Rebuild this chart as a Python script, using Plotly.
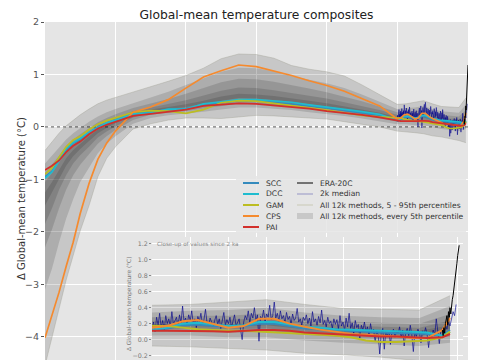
import plotly.graph_objects as go

# ---------------- data ----------------
years = [-10000, -9800, -9600, -9400, -9200, -9000, -8750, -8500, -8250, -8000,
         -7500, -7000, -6500, -6000, -5500, -5000, -4500, -4000, -3500, -3000,
         -2500, -2000, -1500, -1000, -500, 0, 100, 200, 300, 400, 500, 600, 700,
         800, 900, 1000, 1100, 1200, 1300, 1400, 1500, 1600, 1700, 1800, 1900, 1950]

scc = [-0.95, -0.85, -0.62, -0.45, -0.31, -0.24, -0.11, 0.0, 0.07, 0.12, 0.24, 0.28, 0.33,
       0.35, 0.42, 0.46, 0.5, 0.5, 0.47, 0.44, 0.4, 0.36, 0.31, 0.27, 0.22,
       0.12, 0.14, 0.18, 0.19, 0.17, 0.16, 0.17, 0.2, 0.2, 0.17, 0.14, 0.13, 0.12, 0.11,
       0.1, 0.09, 0.08, 0.08, 0.07, 0.05, 0.12]
dcc = [-0.98, -0.86, -0.64, -0.42, -0.3, -0.22, -0.1, -0.01, 0.08, 0.13, 0.25, 0.27, 0.34,
       0.34, 0.44, 0.48, 0.52, 0.52, 0.5, 0.47, 0.42, 0.38, 0.33, 0.29, 0.24,
       0.125, 0.15, 0.2, 0.21, 0.19, 0.17, 0.18, 0.22, 0.22, 0.19, 0.16, 0.15, 0.13, 0.125,
       0.12, 0.11, 0.105, 0.1, 0.09, 0.05, 0.1]
gam = [-0.9, -0.78, -0.58, -0.38, -0.25, -0.18, -0.05, 0.05, 0.12, 0.17, 0.28, 0.31, 0.3,
       0.26, 0.33, 0.46, 0.5, 0.49, 0.45, 0.41, 0.37, 0.32, 0.27, 0.22, 0.19,
       0.18, 0.17, 0.15, 0.13, 0.12, 0.11, 0.11, 0.1, 0.09, 0.08, 0.07, 0.06, 0.05, 0.03,
       -0.01, -0.03, -0.03, -0.02, -0.01, 0.03, 0.1]
cps = [-4.02, -3.6, -3.15, -2.66, -2.2, -1.65, -1.08, -0.62, -0.31, -0.08, 0.28, 0.38, 0.52,
       0.74, 0.95, 1.07, 1.18, 1.15, 1.07, 0.98, 0.88, 0.79, 0.68, 0.54, 0.4,
       0.15, 0.17, 0.23, 0.245, 0.2, 0.15, 0.17, 0.26, 0.26, 0.2, 0.16, 0.125, 0.1, 0.07,
       0.06, 0.05, 0.04, 0.02, 0.02, 0.12, 0.27]
pai = [-0.82, -0.74, -0.64, -0.48, -0.36, -0.28, -0.14, -0.03, 0.04, 0.1, 0.21, 0.25, 0.29,
       0.33, 0.4, 0.43, 0.45, 0.44, 0.41, 0.38, 0.35, 0.3, 0.27, 0.23, 0.18,
       0.11, 0.11, 0.11, 0.11, 0.105, 0.1, 0.11, 0.12, 0.12, 0.11, 0.09, 0.08, 0.07, 0.06,
       0.05, 0.04, 0.04, 0.03, 0.02, 0.03, 0.07]

band_years = [-10000, -9800, -9600, -9400, -9200, -9000, -8750, -8500, -8250, -8000,
              -7500, -7000, -6500, -6000, -5500, -5000, -4500, -4000, -3500, -3000,
              -2500, -2000, -1500, -1000, -500, 0, 250, 500, 750, 1000, 1250, 1500, 1750, 1950]
p95 = [-0.45, -0.28, -0.12, 0.02, 0.13, 0.23, 0.34, 0.44, 0.51, 0.56, 0.66, 0.76, 0.87, 0.98,
       1.12, 1.3, 1.39, 1.38, 1.31, 1.17, 1.1, 1.05, 0.97, 0.8, 0.62, 0.43, 0.44, 0.47, 0.5,
       0.44, 0.39, 0.38, 0.37, 0.55]
p85 = [-0.7, -0.55, -0.4, -0.24, -0.12, -0.02, 0.1, 0.2, 0.28, 0.34, 0.45, 0.55, 0.67, 0.8,
       0.92, 1.05, 1.13, 1.12, 1.06, 0.97, 0.9, 0.83, 0.74, 0.62, 0.48, 0.34, 0.36, 0.37, 0.4,
       0.34, 0.3, 0.28, 0.27, 0.42]
p75 = [-0.88, -0.72, -0.55, -0.37, -0.24, -0.14, -0.02, 0.09, 0.17, 0.24, 0.36, 0.44, 0.53,
       0.63, 0.74, 0.85, 0.92, 0.91, 0.86, 0.8, 0.73, 0.66, 0.58, 0.49, 0.39, 0.28, 0.3, 0.3,
       0.33, 0.27, 0.23, 0.21, 0.2, 0.32]
p65 = [-1.05, -0.88, -0.68, -0.48, -0.34, -0.23, -0.1, 0.02, 0.1, 0.17, 0.3, 0.37, 0.44, 0.51,
       0.6, 0.69, 0.75, 0.74, 0.7, 0.65, 0.6, 0.54, 0.47, 0.4, 0.32, 0.23, 0.25, 0.25, 0.27,
       0.22, 0.18, 0.16, 0.15, 0.24]
p55 = [-1.25, -1.05, -0.82, -0.6, -0.44, -0.32, -0.18, -0.05, 0.04, 0.12, 0.26, 0.33, 0.38,
       0.43, 0.5, 0.58, 0.63, 0.62, 0.59, 0.55, 0.5, 0.45, 0.39, 0.33, 0.27, 0.19, 0.21, 0.2,
       0.22, 0.17, 0.14, 0.12, 0.11, 0.18]
p45 = [-1.5, -1.25, -0.98, -0.74, -0.56, -0.42, -0.27, -0.12, -0.02, 0.07, 0.22, 0.3, 0.34,
       0.38, 0.44, 0.5, 0.55, 0.54, 0.51, 0.48, 0.43, 0.39, 0.34, 0.28, 0.23, 0.16, 0.17, 0.16,
       0.18, 0.13, 0.1, 0.08, 0.07, 0.13]
p35 = [-1.85, -1.55, -1.2, -0.92, -0.7, -0.54, -0.38, -0.2, -0.09, 0.01, 0.18, 0.27, 0.31,
       0.34, 0.39, 0.45, 0.49, 0.48, 0.45, 0.43, 0.38, 0.34, 0.3, 0.25, 0.19, 0.13, 0.14, 0.13,
       0.14, 0.1, 0.07, 0.05, 0.04, 0.09]
p25 = [-2.3, -1.95, -1.55, -1.2, -0.92, -0.72, -0.52, -0.32, -0.18, -0.06, 0.13, 0.23, 0.27,
       0.3, 0.35, 0.4, 0.44, 0.43, 0.41, 0.38, 0.34, 0.3, 0.26, 0.21, 0.16, 0.1, 0.1, 0.09,
       0.1, 0.06, 0.03, 0.01, 0.0, 0.04]
p15 = [-3.1, -2.7, -2.2, -1.75, -1.38, -1.05, -0.78, -0.5, -0.32, -0.18, 0.06, 0.17, 0.22,
       0.25, 0.29, 0.33, 0.37, 0.37, 0.35, 0.32, 0.28, 0.25, 0.21, 0.16, 0.11, 0.05, 0.05,
       0.03, 0.03, -0.01, -0.04, -0.06, -0.08, -0.04]
p5 = [-4.55, -4.0, -3.45, -2.92, -2.45, -1.98, -1.5, -0.95, -0.6, -0.38, -0.04, 0.06, 0.13,
      0.17, 0.17, 0.16, 0.19, 0.22, 0.21, 0.19, 0.17, 0.15, 0.1, 0.05, 0.0, -0.08, -0.09,
      -0.11, -0.13, -0.17, -0.19, -0.22, -0.26, -0.3]

# 2k median, one value per decade from year 0
k2_start, k2_step = 0, 10
k2_median = [
    0.14, 0.22, 0.10, 0.28, 0.18, 0.33, 0.15, 0.24, 0.12, 0.30, 0.20, 0.26, 0.16, 0.35, 0.19, 0.23, 0.28, 0.17, 0.31, 0.21,
    0.42, 0.22, 0.27, 0.18, 0.31, 0.24, 0.36, 0.20, 0.26, 0.15, 0.29, 0.23, 0.33, 0.19, 0.25, 0.38, 0.21, 0.17, 0.27, 0.22,
    0.16, 0.24, 0.30, 0.19, 0.26, 0.14, 0.22, 0.34, 0.18, 0.25, 0.20, 0.28, 0.15, 0.23, 0.31, 0.17, 0.21, 0.26, 0.12, 0.00,
    0.22, 0.30, 0.25, 0.36, 0.21, 0.33, 0.27, 0.40, 0.24, 0.31, -0.02, 0.29, 0.26, 0.37, 0.22, 0.32, 0.28, 0.43, 0.25, 0.30,
    0.47, 0.27, 0.33, 0.23, 0.36, 0.26, 0.30, 0.21, 0.34, 0.25, 0.29, 0.19, 0.32, 0.24, 0.27, 0.39, 0.22, 0.26, 0.18, 0.28,
    0.24, 0.31, 0.20, 0.27, 0.17, 0.35, 0.22, 0.26, 0.18, 0.29, 0.21, 0.37, 0.19, 0.24, 0.16, 0.28, 0.20, 0.23, 0.14, 0.26,
    0.19, 0.25, 0.13, 0.30, 0.17, 0.22, 0.11, 0.27, 0.16, 0.33, 0.14, 0.21, 0.08, 0.24, 0.15, 0.19, 0.02, 0.18, 0.12, 0.22,
    0.10, 0.16, 0.05, 0.20, 0.09, 0.13, -0.03, 0.11, 0.06, -0.18, 0.08, 0.14, -0.12, 0.10, 0.04, 0.12, -0.06, 0.09, 0.13, 0.03,
    0.11, 0.07, 0.16, 0.02, 0.12, -0.08, 0.09, 0.14, 0.05, 0.18, 0.06, -0.15, 0.10, 0.04, 0.13, 0.08, -0.04, 0.11, 0.06, 0.15,
    0.07, -0.10, 0.09, 0.03, 0.12, 0.05, 0.26, 0.08, -0.05, 0.11, 0.14, 0.09, 0.18, 0.13, 0.22, 0.17, 0.28, 0.35, 0.30, 0.44]

# ERA-20C, every 5 years from 1900
era_start, era_step = 1900, 5
era20c = [0.12, 0.05, 0.15, 0.08, 0.2, 0.25, 0.3, 0.18, 0.35, 0.28, 0.4, 0.32, 0.45, 0.5,
          0.55, 0.62, 0.7, 0.78, 0.88, 0.95, 1.05, 1.12, 1.18]

methods = ["SCC", "DCC", "GAM", "CPS", "PAI"]
method_values = {"SCC": scc, "DCC": dcc, "GAM": gam, "CPS": cps, "PAI": pai}
method_colors = {"SCC": "#348ABD", "DCC": "#1FBCCF", "GAM": "#BCBD22",
                 "CPS": "#F58A2E", "PAI": "#D2302C"}
band_pairs = [(p5, p95), (p15, p85), (p25, p75), (p35, p65), (p45, p55)]

k2_years = [k2_start + k2_step * i for i in range(len(k2_median))]
era_years = [era_start + era_step * i for i in range(len(era20c))]

# ---------------- geometry (window pixels; page body has an 8px margin) ----------------
OFF = 8
W, H = 485 - OFF, 360 - OFF
PL, PT, PR, PB = 45, 22, 468, 360          # plot area in window pixels
ML, MT = PL - OFF, PT - OFF
MR, MB = W - (PR - OFF), H - (PB - OFF)
PW, PH = PR - PL, PB - PT


def fx(x):
    return (x - PL) / PW


def fy(y):
    return (PB - y) / PH


MAIN_X = [-10000, 2010]
MAIN_Y = [-4.444, 2.0]
INS_X = [0, 2035]
INS_Y = [-0.255, 1.284]

BG = "#E5E5E5"
fig = go.Figure()


def add_panel(xa, ya, t_min, lw, k2w):
    bi = [i for i, t in enumerate(band_years) if t >= t_min]
    bx = [band_years[i] for i in bi]
    for lo, hi in band_pairs:
        fig.add_trace(go.Scatter(x=bx, y=[lo[i] for i in bi], mode="lines",
                                 line=dict(width=0), xaxis=xa, yaxis=ya,
                                 showlegend=False, hoverinfo="skip"))
        fig.add_trace(go.Scatter(x=bx, y=[hi[i] for i in bi], mode="lines",
                                 line=dict(width=0), fill="tonexty",
                                 fillcolor="rgba(0,0,0,0.13)", xaxis=xa, yaxis=ya,
                                 showlegend=False, hoverinfo="skip"))
    for p in (p5, p95):
        fig.add_trace(go.Scatter(x=bx, y=[p[i] for i in bi], mode="lines",
                                 line=dict(width=0.6, color="rgba(160,160,150,0.7)"),
                                 xaxis=xa, yaxis=ya, showlegend=False, hoverinfo="skip"))
    fig.add_trace(go.Scatter(x=k2_years, y=k2_median, mode="lines",
                             line=dict(width=k2w, color="rgba(0,0,140,0.8)"),
                             xaxis=xa, yaxis=ya, showlegend=False, hoverinfo="skip"))
    li = [i for i, t in enumerate(years) if t >= t_min]
    lx = [years[i] for i in li]
    for m in methods:
        vals = method_values[m]
        fig.add_trace(go.Scatter(x=lx, y=[vals[i] for i in li], mode="lines",
                                 line=dict(width=lw, color=method_colors[m]),
                                 xaxis=xa, yaxis=ya, showlegend=False, hoverinfo="skip"))
    fig.add_trace(go.Scatter(x=era_years, y=era20c, mode="lines",
                             line=dict(width=1.0, color="black"),
                             xaxis=xa, yaxis=ya, showlegend=False, hoverinfo="skip"))


add_panel("x", "y", -10000, 1.7, 0.7)
add_panel("x2", "y2", -500, 2.0, 0.8)

shapes = [
    dict(type="line", xref="x", yref="y", x0=MAIN_X[0], x1=MAIN_X[1], y0=0, y1=0,
         line=dict(color="#444", width=0.9, dash="dot"), layer="between"),
    dict(type="rect", xref="x2", yref="y2", x0=INS_X[0], x1=INS_X[1], y0=INS_Y[0], y1=INS_Y[1],
         fillcolor=BG, line=dict(width=0), layer="below"),
]
annotations = []

# ---------------- legend (drawn manually, two columns) ----------------
shapes.append(dict(type="rect", xref="paper", yref="paper", x0=fx(236), x1=fx(466),
                   y0=fy(233), y1=fy(176), fillcolor="rgba(229,229,229,0.85)",
                   line=dict(width=0), layer="above"))
rows = [183, 194, 205, 216, 227]
leg_font = dict(size=7.6, color="#333", family="DejaVu Sans")
for m, yy in zip(methods, rows):
    shapes.append(dict(type="line", xref="paper", yref="paper", x0=fx(243), x1=fx(259),
                       y0=fy(yy), y1=fy(yy), line=dict(color=method_colors[m], width=2),
                       layer="above"))
    annotations.append(dict(text=m, x=fx(264), y=fy(yy), xref="paper", yref="paper",
                            xanchor="left", yanchor="middle", showarrow=False, font=leg_font))
col2 = [("ERA-20C", "line", "black", 1.0),
        ("2k median", "line", "rgba(0,0,140,0.35)", 1.0),
        ("All 12k methods, 5 - 95th percentiles", "line", "#C9C9B5", 1.0),
        ("All 12k methods, every 5th percentile", "patch", "#C8C8C8", 0)]
for (name, kind, col, w), yy in zip(col2, rows):
    if kind == "line":
        shapes.append(dict(type="line", xref="paper", yref="paper", x0=fx(297), x1=fx(313),
                           y0=fy(yy), y1=fy(yy), line=dict(color=col, width=w), layer="above"))
    else:
        shapes.append(dict(type="rect", xref="paper", yref="paper", x0=fx(297), x1=fx(313),
                           y0=fy(yy + 3), y1=fy(yy - 3), fillcolor=col, line=dict(width=0),
                           layer="above"))
    annotations.append(dict(text=name, x=fx(318), y=fy(yy), xref="paper", yref="paper",
                            xanchor="left", yanchor="middle", showarrow=False, font=leg_font))

# ---------------- text ----------------
annotations.append(dict(text="Δ Global-mean temperature (°C)", textangle=-90,
                        x=fx(21), y=fy(199), xref="paper", yref="paper", showarrow=False,
                        xanchor="center", yanchor="middle",
                        font=dict(size=10, color="#333", family="DejaVu Sans")))
annotations.append(dict(text="Δ Global-mean temperature (°C)", textangle=-90,
                        x=fx(129), y=fy(304), xref="paper", yref="paper", showarrow=False,
                        xanchor="center", yanchor="middle",
                        font=dict(size=5.8, color="#777", family="DejaVu Sans")))
annotations.append(dict(text="Close-up of values since 2 ka", x=fx(155), y=fy(245),
                        xref="paper", yref="paper", xanchor="left", yanchor="middle",
                        showarrow=False, font=dict(size=5.6, color="#888", family="DejaVu Sans")))

fig.update_layout(
    width=W, height=H,
    margin=dict(l=ML, r=MR, t=MT, b=MB, pad=0),
    paper_bgcolor="white", plot_bgcolor=BG,
    font=dict(family="DejaVu Sans", color="#555"),
    showlegend=False, hovermode=False,
    title=dict(text="Global-mean temperature composites", x=0.5, xref="paper",
               xanchor="center", y=1 - (15 - OFF) / H, yref="container", yanchor="middle",
               font=dict(size=12.3, color="#222", family="DejaVu Sans")),
    xaxis=dict(domain=[0, 1], range=MAIN_X, tick0=0, dtick=2000, showticklabels=False,
               showgrid=True, gridcolor="white", gridwidth=1, zeroline=False, ticks=""),
    yaxis=dict(domain=[0, 1], range=MAIN_Y, tick0=0, dtick=1, showgrid=True,
               gridcolor="white", gridwidth=1, zeroline=False, ticks="outside", ticklen=3,
               tickcolor="#555", tickfont=dict(size=9.5, color="#555")),
    xaxis2=dict(domain=[fx(152), fx(463)], anchor="y2", range=INS_X, tick0=0, dtick=250,
                showticklabels=False, showgrid=True, gridcolor="white", gridwidth=0.8,
                zeroline=False, ticks=""),
    yaxis2=dict(domain=[0, fy(237)], anchor="x2", range=INS_Y, tick0=0, dtick=0.2,
                tickformat=".1f", showgrid=True, gridcolor="white", gridwidth=0.8,
                zeroline=False, ticks="outside", ticklen=2, tickcolor="#888",
                tickfont=dict(size=6.3, color="#777")),
    shapes=shapes, annotations=annotations,
)

fig.write_html("out.html")
